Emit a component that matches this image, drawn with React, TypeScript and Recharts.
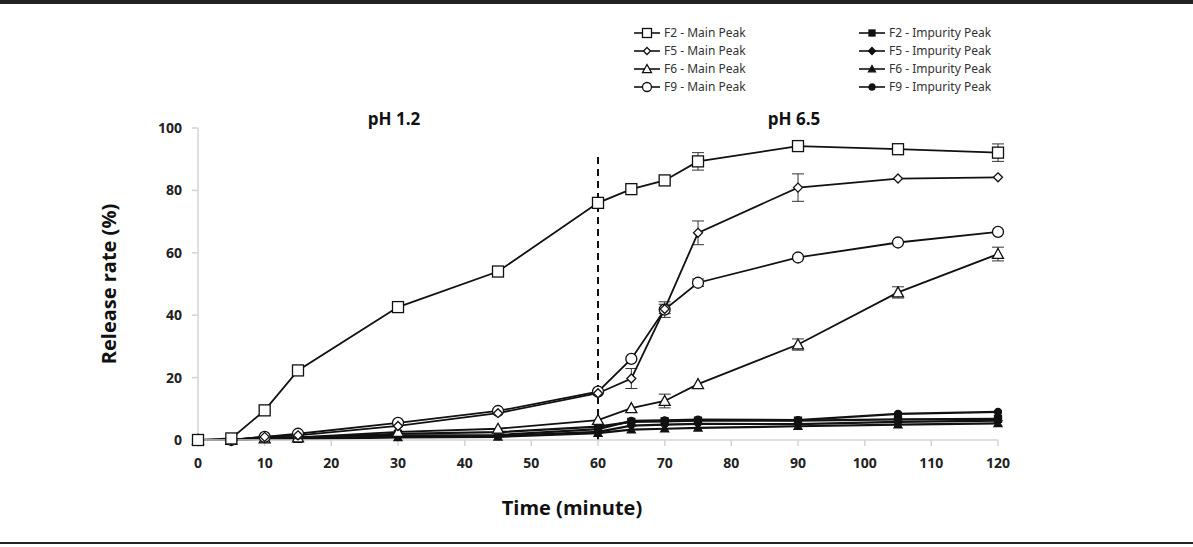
import { LineChart, Line, XAxis, YAxis, ReferenceLine, ErrorBar, Legend } from 'recharts'

const TIME = [0, 5, 10, 15, 30, 45, 60, 65, 70, 75, 90, 105, 120]
const X_TICKS = [0, 10, 20, 30, 40, 50, 60, 70, 80, 90, 100, 110, 120]
const Y_TICKS = [0, 20, 40, 60, 80, 100]

const F2_MAIN = [0, 0.5, 9.5, 22.3, 42.6, 54, 76, 80.4, 83.2, 89.3, 94.2, 93.2, 92.1]
const F5_MAIN = [0, 0, 1, 1.5, 4.5, 8.6, 15, 19.7, 42, 66.4, 80.9, 83.8, 84.2]
const F6_MAIN = [0, 0, 0.5, 0.8, 2.6, 3.6, 6.4, 10.2, 12.5, 17.9, 30.6, 47.3, 59.6]
const F9_MAIN = [0, 0, 1, 2, 5.5, 9.3, 15.5, 26, 41.8, 50.4, 58.5, 63.3, 66.7]

const F2_IMP = [0, 0, 1, 0.8, 2, 2.5, 4.3, 5.8, 6, 6.2, 6.2, 6.6, 6.8]
const F5_IMP = [0, 0, 0.5, 0.5, 1.2, 1.3, 2.6, 4.6, 4.9, 5.2, 5.1, 5.8, 6.2]
const F6_IMP = [0, 0, 0.3, 0.3, 0.8, 1, 2.2, 3.3, 3.6, 3.9, 4.4, 4.9, 5.3]
const F9_IMP = [0, 0, 0.5, 0.8, 1.5, 1.6, 3.5, 6.1, 6.3, 6.5, 6.4, 8.4, 9]

// standard deviations (0 = no visible bar)
const F2_ERR = [0, 0, 0, 0, 0, 0, 0, 0, 0, 2.8, 0, 0, 2.8]
const F5_ERR = [0, 0, 0, 0, 0, 0, 0, 3.2, 1.5, 3.8, 4.4, 0, 0]
const F6_ERR = [0, 0, 0, 0, 0, 0, 0, 0, 2.2, 0, 1.8, 1.8, 2.2]
const F9_ERR = [0, 0, 0, 0, 0, 0, 0, 0, 2.5, 1.2, 0, 0, 0]

const data = TIME.map((t, i) => ({
  time: t,
  f2Main: F2_MAIN[i],
  f5Main: F5_MAIN[i],
  f6Main: F6_MAIN[i],
  f9Main: F9_MAIN[i],
  f2Imp: F2_IMP[i],
  f5Imp: F5_IMP[i],
  f6Imp: F6_IMP[i],
  f9Imp: F9_IMP[i],
  f2Err: F2_ERR[i],
  f5Err: F5_ERR[i],
  f6Err: F6_ERR[i],
  f9Err: F9_ERR[i],
}))

type Shape = 'square' | 'diamond' | 'triangle' | 'circle'

const Marker = ({ shape, filled, size, cx, cy }: { shape: Shape; filled: boolean; size: number; cx: number; cy: number }) => {
  const fill = filled ? '#111' : '#fff'
  const s = size / 2
  const common = { fill, stroke: '#111', strokeWidth: 1.3 }
  if (shape === 'square') return <rect x={cx - s} y={cy - s} width={size} height={size} {...common} />
  if (shape === 'diamond') return <polygon points={`${cx},${cy - s} ${cx + s},${cy} ${cx},${cy + s} ${cx - s},${cy}`} {...common} />
  if (shape === 'triangle') return <polygon points={`${cx},${cy - s} ${cx + s},${cy + s * 0.8} ${cx - s},${cy + s * 0.8}`} {...common} />
  return <circle cx={cx} cy={cy} r={s} {...common} />
}

const dotFor = (id: string, shape: Shape, filled: boolean, size: number) => (props: any) => {
  const { cx, cy, index } = props
  if (cx == null || cy == null) return <g key={`${id}-${index}`} />
  return (
    <g key={`${id}-${index}`}>
      <Marker shape={shape} filled={filled} size={size} cx={cx} cy={cy} />
    </g>
  )
}

const SERIES = [
  { key: 'f2Imp', name: 'F2 - Impurity Peak', shape: 'square' as Shape, filled: true, size: 7, err: '' },
  { key: 'f5Imp', name: 'F5 - Impurity Peak', shape: 'diamond' as Shape, filled: true, size: 8, err: '' },
  { key: 'f6Imp', name: 'F6 - Impurity Peak', shape: 'triangle' as Shape, filled: true, size: 8, err: '' },
  { key: 'f9Imp', name: 'F9 - Impurity Peak', shape: 'circle' as Shape, filled: true, size: 7, err: '' },
  { key: 'f6Main', name: 'F6 - Main Peak', shape: 'triangle' as Shape, filled: false, size: 11, err: 'f6Err' },
  { key: 'f9Main', name: 'F9 - Main Peak', shape: 'circle' as Shape, filled: false, size: 11, err: 'f9Err' },
  { key: 'f5Main', name: 'F5 - Main Peak', shape: 'diamond' as Shape, filled: false, size: 9, err: 'f5Err' },
  { key: 'f2Main', name: 'F2 - Main Peak', shape: 'square' as Shape, filled: false, size: 11, err: 'f2Err' },
]

const LEGEND_LEFT = ['f2Main', 'f5Main', 'f6Main', 'f9Main']
const LEGEND_RIGHT = ['f2Imp', 'f5Imp', 'f6Imp', 'f9Imp']

const LegendItem = ({ k }: { k: string }) => {
  const s = SERIES.find((x) => x.key === k)!
  const small = s.filled ? s.size - 1 : Math.min(s.size - 2, 9)
  return (
    <div style={{ display: 'flex', alignItems: 'center', height: 18 }}>
      <svg width={28} height={14} style={{ marginRight: 3 }}>
        <line x1={1} y1={7} x2={27} y2={7} stroke="#111" strokeWidth={1.6} />
        <Marker shape={s.shape} filled={s.filled} size={small} cx={14} cy={7} />
      </svg>
      <span>{s.name}</span>
    </div>
  )
}

const LegendGrid = () => (
  <div style={{ display: 'flex', fontFamily: '"Noto Sans", sans-serif', fontSize: 12, color: '#333', lineHeight: '18px' }}>
    <div style={{ width: 225 }}>
      {LEGEND_LEFT.map((k) => <LegendItem key={k} k={k} />)}
    </div>
    <div>
      {LEGEND_RIGHT.map((k) => <LegendItem key={k} k={k} />)}
    </div>
  </div>
)

const titleStyle = { fontSize: 20, fontWeight: 700, fill: '#111', fontFamily: '"Open Sans", sans-serif' }
const tickStyle = { fontSize: 14, fontWeight: 700, fill: '#222', fontFamily: '"Open Sans", sans-serif' }
const axisStyle = { stroke: '#d4d4d4', strokeWidth: 1.5 }
const phStyle = {
  position: 'absolute' as const,
  top: 107,
  fontFamily: '"Open Sans", sans-serif',
  fontWeight: 700,
  fontSize: 17,
  color: '#111',
  transform: 'translateX(-50%)',
}

export default function App() {
  return (
    <div style={{ position: 'fixed', left: 0, top: 0, width: 1193, height: 547, background: '#fff' }}>
      <div style={{ position: 'absolute', left: 0, top: 0, width: 1193, height: 4, background: '#222' }} />
      <div style={{ position: 'absolute', left: 0, top: 542, width: 1193, height: 2, background: '#222' }} />
      <div style={{ ...phStyle, left: 394 }}>pH 1.2</div>
      <div style={{ ...phStyle, left: 794 }}>pH 6.5</div>
      <LineChart width={1193} height={547} data={data} margin={{ top: 128, right: 195, left: 0, bottom: 0 }}>
        <XAxis
          dataKey="time"
          type="number"
          domain={[0, 120]}
          ticks={X_TICKS}
          tick={tickStyle}
          axisLine={axisStyle}
          tickLine={axisStyle}
          tickSize={6}
          tickMargin={12}
          height={107}
          label={{
            content: () => (
              <text x={572} y={507} textAnchor="middle" dominantBaseline="central" style={titleStyle}>
                Time (minute)
              </text>
            ),
          }}
        />
        <YAxis
          type="number"
          domain={[0, 100]}
          ticks={Y_TICKS}
          tick={tickStyle}
          axisLine={axisStyle}
          tickLine={axisStyle}
          tickSize={6}
          tickMargin={10}
          width={198}
          label={{
            content: () => (
              <text
                x={108}
                y={284}
                transform="rotate(-90 108 284)"
                textAnchor="middle"
                dominantBaseline="central"
                style={titleStyle}
              >
                Release rate (%)
              </text>
            ),
          }}
        />
        <ReferenceLine
          segment={[{ x: 60, y: 0 }, { x: 60, y: 91 }]}
          stroke="#111"
          strokeWidth={2}
          strokeDasharray="7 5"
        />
        <Legend
          layout="horizontal"
          verticalAlign="middle"
          align="center"
          content={() => <LegendGrid />}
          wrapperStyle={{ position: 'absolute', top: 24, left: 633, width: 420 }}
        />
        {SERIES.map((s) => (
          <Line
            key={s.key}
            dataKey={s.key}
            name={s.name}
            type="linear"
            stroke="#111"
            strokeWidth={s.filled ? 2.2 : 1.8}
            dot={dotFor(s.key, s.shape, s.filled, s.size)}
            activeDot={false}
            isAnimationActive={false}
          >
            {s.err ? <ErrorBar dataKey={s.err} width={6} stroke="#333" strokeWidth={1} direction="y" /> : null}
          </Line>
        ))}
      </LineChart>
    </div>
  )
}
